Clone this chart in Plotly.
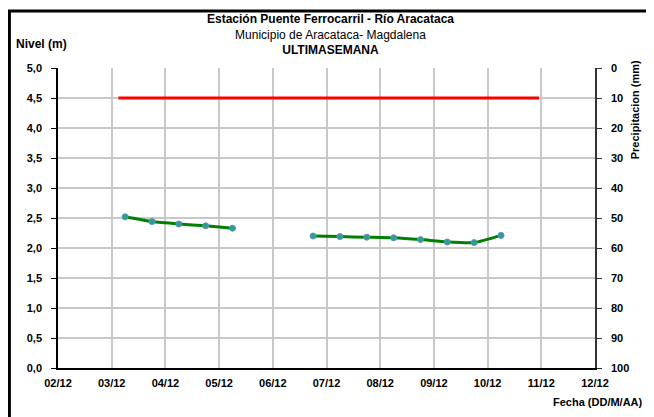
import plotly.graph_objects as go

# Nivel del río (m), lecturas cada 12 horas
nivel_fechas = [
    '2012-12-03 06:00', '2012-12-03 18:00', '2012-12-04 06:00', '2012-12-04 18:00',
    '2012-12-05 06:00', '2012-12-06 00:00', '2012-12-06 18:00', '2012-12-07 06:00',
    '2012-12-07 18:00', '2012-12-08 06:00', '2012-12-08 18:00', '2012-12-09 06:00',
    '2012-12-09 18:00', '2012-12-10 06:00',
]
nivel_valores = [2.52, 2.44, 2.40, 2.37, 2.33, None, 2.20, 2.19, 2.18, 2.17, 2.14, 2.10, 2.09, 2.21]

# Nivel de alerta (m)
alerta_fechas = ['2012-12-03 03:00', '2012-12-10 23:00']
alerta_valores = [4.5, 4.5]

# Precipitación (mm): sin registros en la semana
precip_fechas = []
precip_valores = []

FONT = 'Liberation Sans, Arial, sans-serif'
GRID = '#c8c8c8'

fig = go.Figure()
fig.add_trace(go.Scatter(
    x = alerta_fechas,
    y = alerta_valores,
    mode = 'lines',
    line = dict(color='#ff0000', width=3),
    showlegend = False,
))
fig.add_trace(go.Scatter(
    x = nivel_fechas,
    y = nivel_valores,
    mode = 'lines+markers',
    line = dict(color='#008000', width=3, shape='spline', smoothing=0.6),
    marker = dict(size=6, color='#2f9f86', line=dict(color='#5a8fd0', width=1)),
    connectgaps = False,
    showlegend = False,
))
fig.add_trace(go.Bar(
    x = precip_fechas,
    y = precip_valores,
    yaxis = 'y2',
    showlegend = False,
))

def label(text, x, y, size=11, **kw):
    return dict(text=text, x=x, y=y, xref='paper', yref='paper', showarrow=False,
                xanchor=kw.pop('xanchor', 'center'), yanchor='middle',
                font=dict(size=size), **kw)

titulo = ('<b>Estación Puente Ferrocarril - Río Aracataca</b><br>'
          'Municipio de Aracataca- Magdalena<br>'
          '<b>ULTIMASEMANA</b>')

# the page puts the figure 8px in from the corner, so it is drawn 8px smaller
fig.update_layout(
    width = 646,
    height = 409,
    margin = dict(l=50, r=59, t=60, b=49),
    paper_bgcolor = 'white',
    plot_bgcolor = 'white',
    separators = ',.',
    font = dict(family=FONT, size=11, color='black'),
    xaxis = dict(
        type = 'date',
        range = ['2012-12-02', '2012-12-12'],
        dtick = 86400000,
        tickformat = '%d/%m',
        showgrid = True,
        gridcolor = GRID,
        gridwidth = 1.5,
        showline = True,
        linecolor = 'black',
        linewidth = 1.5,
        ticks = '',
        ticklabelstandoff = 4,
        tickfont = dict(family=FONT, size=11, weight='bold'),
        zeroline = False,
    ),
    yaxis = dict(
        range = [0, 5],
        dtick = 0.5,
        tickformat = '.1f',
        showgrid = True,
        gridcolor = GRID,
        gridwidth = 1.5,
        showline = True,
        linecolor = 'black',
        linewidth = 1.5,
        ticks = 'outside',
        ticklen = 5,
        tickcolor = 'black',
        ticklabelstandoff = 7,
        tickfont = dict(family=FONT, size=11, weight='bold'),
        zeroline = False,
    ),
    yaxis2 = dict(
        overlaying = 'y',
        side = 'right',
        range = [100, 0],
        dtick = 10,
        showgrid = False,
        showline = True,
        linecolor = '#333333',
        linewidth = 1.5,
        ticks = 'outside',
        ticklen = 5,
        tickcolor = '#333333',
        ticklabelstandoff = 7,
        tickfont = dict(family=FONT, size=11, weight='bold'),
        zeroline = False,
    ),
    shapes = [dict(
        type = 'rect', xref = 'paper', yref = 'paper',
        x0 = -0.0905, x1 = 1.0987, y0 = -0.18, y1 = 1.19,
        line = dict(color='black', width=3),
    )],
    annotations = [
        label(titulo, 0.507, 1.112, size=12),
        label('<b>Nivel (m)</b>', -0.03, 1.08, size=12),
        label('<b>Precipitacion (mm)</b>', 1.075, 0.86, textangle=-90),
        label('<b>Fecha (DD/M/AA)</b>', 1.093, -0.113, xanchor='right'),
    ],
)

fig.write_html('out.html')
